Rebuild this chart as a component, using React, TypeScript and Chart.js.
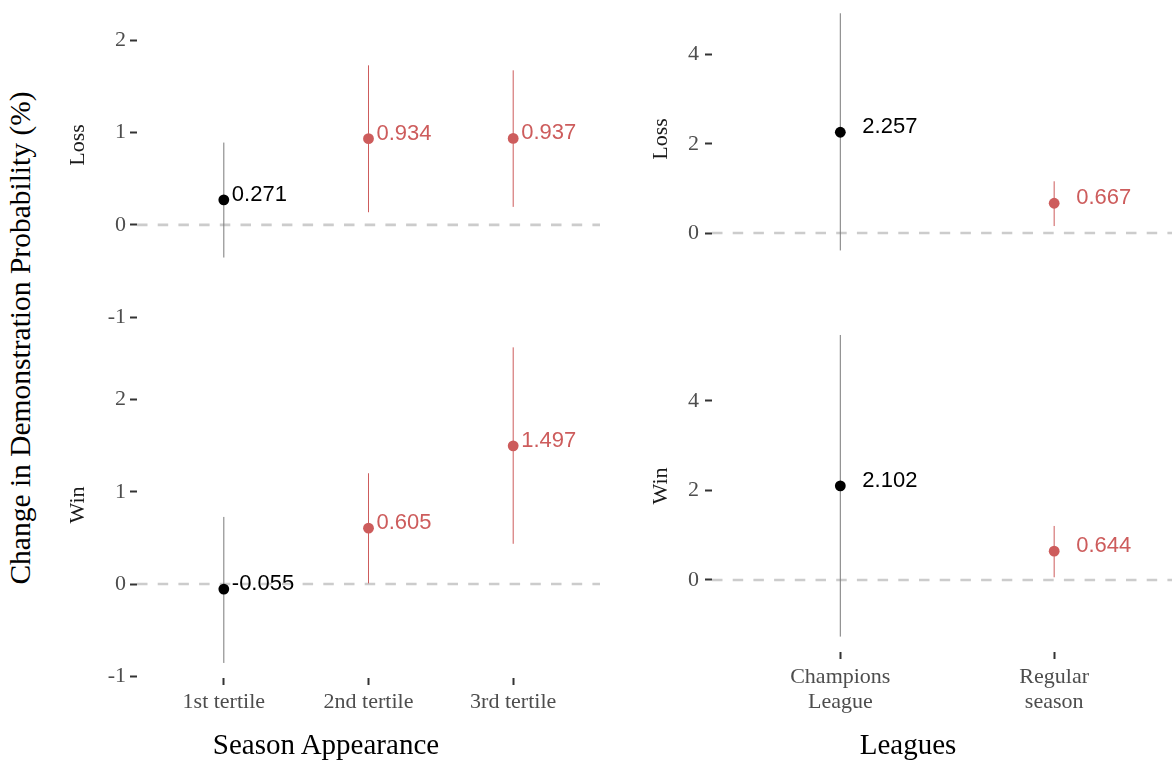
import React, { useEffect, useRef } from "react";
import { Chart, registerables } from "chart.js";

Chart.register(...registerables);

const SERIF = '"Liberation Serif", "Times New Roman", serif';
const SANS = '"Liberation Sans", Arial, sans-serif';
const RED = "#cd5c5c";
const BLACK = "#000000";
const BAR_GREY = "#7a7a7a";
const ZERO_LINE = "#cccccc";
const TICK_TEXT = "#4d4d4d";
const TICK_MARK = "#333333";

// Season appearance (tertiles)
const tertiles: (string | string[])[] = ["1st tertile", "2nd tertile", "3rd tertile"];
const tertileTicks = [-1, 0, 1, 2];
const lossTertileEst = [0.271, 0.934, 0.937];
const lossTertileLow = [-0.354, 0.137, 0.195];
const lossTertileHigh = [0.892, 1.729, 1.675];
const winTertileEst = [-0.055, 0.605, 1.497];
const winTertileLow = [-0.855, 0.007, 0.436];
const winTertileHigh = [0.727, 1.2, 2.564];

// Leagues
const leagues: (string | string[])[] = [["Champions", "League"], ["Regular", "season"]];
const leagueTicks = [0, 2, 4];
const lossLeagueEst = [2.257, 0.667];
const lossLeagueLow = [-0.389, 0.157];
const lossLeagueHigh = [4.92, 1.159];
const winLeagueEst = [2.102, 0.644];
const winLeagueLow = [-1.266, 0.06];
const winLeagueHigh = [5.475, 1.207];

// Estimates whose interval stays above zero are highlighted
const pointColor = (lo: number) => (lo > 0 ? RED : BLACK);
const barColor = (lo: number) => (lo > 0 ? RED : BAR_GREY);

const valueLabels = {
  id: "valueLabels",
  afterDatasetsDraw(chart: any, _args: any, opts: any) {
    const { ctx } = chart;
    const idx = chart.data.datasets.length - 1;
    const meta = chart.getDatasetMeta(idx);
    ctx.save();
    ctx.font = `22px ${SANS}`;
    ctx.textAlign = "left";
    ctx.textBaseline = "alphabetic";
    meta.data.forEach((el: any, i: number) => {
      ctx.fillStyle = opts.colors[i];
      ctx.fillText(opts.values[i].toFixed(3), el.x + opts.dx, el.y + 1);
    });
    ctx.restore();
  },
};

type PanelProps = {
  left: number;
  top: number;
  width: number;
  height: number;
  padBottom: number;
  categories: (string | string[])[];
  est: number[];
  low: number[];
  high: number[];
  xMin: number;
  xMax: number;
  yMin: number;
  yMax: number;
  yTicks: number[];
  yAxisWidth: number;
  yTickPadding: number;
  showX: boolean;
  xAxisHeight: number;
  xTickPadding: number;
  labelDx: number;
};

function Panel(p: PanelProps) {
  const ref = useRef<HTMLCanvasElement | null>(null);

  useEffect(() => {
    if (!ref.current) return;
    const tickFont = { family: SERIF, size: 22, lineHeight: 25 / 22 };
    const grid = {
      display: true,
      drawOnChartArea: false,
      drawTicks: true,
      tickLength: 7,
      tickColor: TICK_MARK,
      tickWidth: 2,
    };
    const datasets: any[] = [
      {
        type: "line",
        data: [
          { x: p.xMin, y: 0 },
          { x: p.xMax, y: 0 },
        ],
        borderColor: ZERO_LINE,
        borderWidth: 2.6,
        borderDash: [10.5, 10.2],
        pointRadius: 0,
        order: 3,
      },
      ...p.est.map((_, i) => ({
        type: "line",
        data: [
          { x: i, y: p.low[i] },
          { x: i, y: p.high[i] },
        ],
        borderColor: barColor(p.low[i]),
        borderWidth: 1,
        pointRadius: 0,
        order: 2,
      })),
      {
        type: "scatter",
        data: p.est.map((v, i) => ({ x: i, y: v })),
        pointBackgroundColor: p.low.map(pointColor),
        pointBorderWidth: 0,
        pointRadius: 5.4,
        order: 1,
      },
    ];

    const chart = new Chart(ref.current, {
      type: "scatter",
      data: { datasets },
      plugins: [valueLabels],
      options: {
        animation: false,
        responsive: false,
        maintainAspectRatio: false,
        layout: { padding: { top: 0, left: 0, right: 0, bottom: p.padBottom }, autoPadding: false },
        plugins: {
          legend: { display: false },
          tooltip: { enabled: false },
          valueLabels: {
            values: p.est,
            colors: p.low.map(pointColor),
            dx: p.labelDx,
          },
        } as any,
        scales: {
          x: {
            type: "linear",
            display: p.showX,
            min: p.xMin,
            max: p.xMax,
            bounds: "data",
            afterBuildTicks: (s: any) => {
              s.ticks = p.categories.map((_, i) => ({ value: i }));
            },
            afterFit: (s: any) => {
              s.height = p.xAxisHeight;
              s.paddingLeft = 0;
              s.paddingRight = 0;
            },
            ticks: {
              font: tickFont,
              color: TICK_TEXT,
              padding: p.xTickPadding,
              autoSkip: false,
              maxRotation: 0,
              minRotation: 0,
              callback: (v: any) => p.categories[v as number] as any,
            },
            grid,
            border: { display: false },
          },
          y: {
            type: "linear",
            min: p.yMin,
            max: p.yMax,
            bounds: "data",
            afterBuildTicks: (s: any) => {
              s.ticks = p.yTicks.map((v) => ({ value: v }));
            },
            afterFit: (s: any) => {
              s.width = p.yAxisWidth;
              s.paddingTop = 0;
              s.paddingBottom = 0;
            },
            ticks: {
              font: tickFont,
              color: TICK_TEXT,
              padding: p.yTickPadding,
              callback: (v: any) => String(v),
            },
            grid,
            border: { display: false },
          },
        } as any,
      },
    } as any);
    return () => chart.destroy();
  }, []);

  return (
    <canvas
      ref={ref}
      width={p.width}
      height={p.height}
      style={{
        position: "absolute",
        left: p.left,
        top: p.top,
        width: p.width,
        height: p.height,
        display: "block",
      }}
    />
  );
}

// Horizontal text placed by its baseline
function HText(props: { text: string; cx: number; baseline: number; size: number; color: string }) {
  const { text, cx, baseline, size, color } = props;
  return (
    <div
      style={{
        position: "absolute",
        left: cx,
        top: baseline - 0.8375 * size,
        transform: "translateX(-50%)",
        fontFamily: SERIF,
        fontSize: size,
        lineHeight: `${size}px`,
        whiteSpace: "nowrap",
        color,
      }}
    >
      {text}
    </div>
  );
}

// Text turned to read upward, placed by its baseline (x) and centre (y)
function VText(props: { text: string; baseline: number; cy: number; size: number; color: string }) {
  const { text, baseline, cy, size, color } = props;
  return (
    <div
      style={{
        position: "absolute",
        left: baseline - 0.3375 * size,
        top: cy,
        transform: "translate(-50%, -50%) rotate(-90deg)",
        fontFamily: SERIF,
        fontSize: size,
        lineHeight: `${size}px`,
        whiteSpace: "nowrap",
        color,
      }}
    >
      {text}
    </div>
  );
}

export default function App() {
  return (
    <div
      style={{
        position: "absolute",
        left: 0,
        top: 0,
        width: 1172,
        height: 764,
        background: "#ffffff",
        overflow: "hidden",
      }}
    >
      <Panel
        left={80}
        top={0}
        width={520}
        height={330}
        padBottom={11}
        categories={tertiles}
        est={lossTertileEst}
        low={lossTertileLow}
        high={lossTertileHigh}
        xMin={-0.6}
        xMax={2.6}
        yMin={-1.02}
        yMax={2.437}
        yTicks={tertileTicks}
        yAxisWidth={57}
        yTickPadding={4}
        showX={false}
        xAxisHeight={0}
        xTickPadding={5}
        labelDx={8}
      />
      <Panel
        left={80}
        top={330}
        width={520}
        height={434}
        padBottom={0}
        categories={tertiles}
        est={winTertileEst}
        low={winTertileLow}
        high={winTertileHigh}
        xMin={-0.6}
        xMax={2.6}
        yMin={-1.018}
        yMax={2.752}
        yTicks={tertileTicks}
        yAxisWidth={57}
        yTickPadding={4}
        showX={true}
        xAxisHeight={86}
        xTickPadding={5}
        labelDx={8}
      />
      <Panel
        left={650}
        top={0}
        width={522}
        height={305}
        padBottom={0}
        categories={leagues}
        est={lossLeagueEst}
        low={lossLeagueLow}
        high={lossLeagueHigh}
        xMin={-0.6}
        xMax={1.551}
        yMin={-1.61}
        yMax={5.217}
        yTicks={leagueTicks}
        yAxisWidth={62}
        yTickPadding={6}
        showX={false}
        xAxisHeight={0}
        xTickPadding={6}
        labelDx={22}
      />
      <Panel
        left={650}
        top={320}
        width={522}
        height={444}
        padBottom={0}
        categories={leagues}
        est={winLeagueEst}
        low={winLeagueLow}
        high={winLeagueHigh}
        xMin={-0.6}
        xMax={1.551}
        yMin={-1.61}
        yMax={5.81}
        yTicks={leagueTicks}
        yAxisWidth={62}
        yTickPadding={6}
        showX={true}
        xAxisHeight={112}
        xTickPadding={6}
        labelDx={22}
      />

      <VText text="Change in Demonstration Probability (%)" baseline={30.5} cy={338} size={29.5} color="#000000" />
      <VText text="Loss" baseline={84} cy={145} size={22} color="#1a1a1a" />
      <VText text="Win" baseline={84} cy={505} size={22} color="#1a1a1a" />
      <VText text="Loss" baseline={667} cy={139} size={22} color="#1a1a1a" />
      <VText text="Win" baseline={667} cy={486} size={22} color="#1a1a1a" />

      <HText text="Season Appearance" cx={326} baseline={754} size={29} color="#000000" />
      <HText text="Leagues" cx={908} baseline={754} size={29} color="#000000" />
    </div>
  );
}
